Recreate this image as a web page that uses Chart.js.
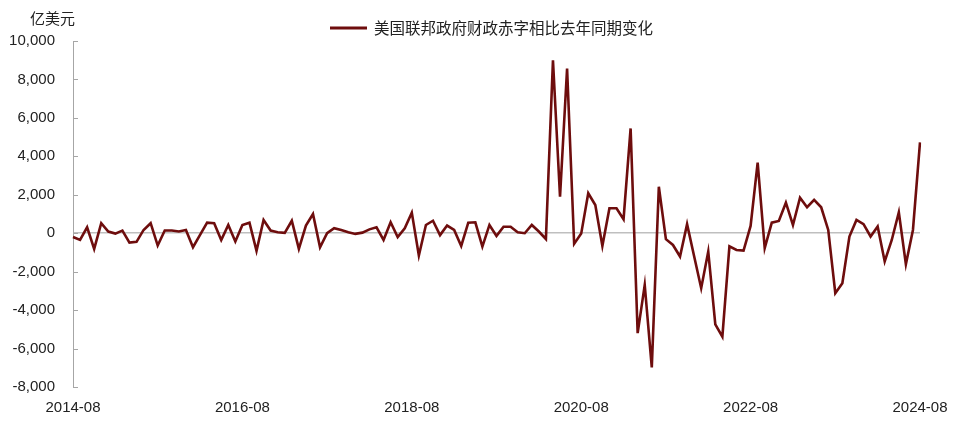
<!DOCTYPE html>
<html>
<head>
<meta charset="utf-8">
<script src="https://cdn.jsdelivr.net/npm/chart.js@4/dist/chart.umd.min.js"></script>
<style>
    html, body { margin: 0; padding: 0; background: #fff; }
    #wrap { width: 960px; height: 422px; }
</style>
</head>
<body>
<div id="wrap"><canvas id="line_chart"></canvas></div>
<script>
// datos: deficit federal, cambio interanual (亿美元), mensual 2014-08 .. 2024-08
const startYear = 2014;
const startMonth = 8;
const nMonths = 121;
const tickLabels = ['2014-08', '2016-08', '2018-08', '2020-08', '2022-08', '2024-08'];
const yTicks = [-8000, -6000, -4000, -2000, 0, 2000, 4000, 6000, 8000, 10000];
const seriesName = '美国联邦政府财政赤字相比去年同期变化';
const unitLabel = '亿美元';

const deficitChange = [
    -200, -350, 310, -815, 520, 85, -20, 140, -490, -450,
    170, 520, -640, 140, 140, 90, 170, -730, -90, 550,
    520, -350, 430, -430, 430, 550, -920, 690, 140, 50,
    20, 650, -815, 400, 1000, -730, 0, 260, 170, 50,
    -35, 30, 200, 310, -350, 570, -200, 260, 1070, -1160,
    430, 650, -100, 400, 170, -660, 550, 570, -700, 430,
    -140, 340, 340, 50, 0, 430, 90, -300, 9000, 1900,
    8570, -555, -20, 2080, 1470, -660, 1300, 1300, 730, 5450,
    -5200, -2690, -6980, 2420, -310, -610, -1210, 470, -1200, -2860,
    -950, -4740, -5380, -680, -870, -900, 380, 3670, -780, 550,
    640, 1590, 430, 1850, 1350, 1730, 1350, 170, -3120, -2600,
    -170, 690, 470, -170, 350, -1470, -350, 1090, -1610, 170,
    4730
];

// etiquetas de meses
let labels = [];
for (let i = 0; i < nMonths; i++) {
    let m = startMonth - 1 + i;
    let y = startYear + Math.floor(m / 12);
    let mm = (m % 12) + 1;
    labels.push(y + '-' + (mm < 10 ? '0' + mm : mm));
}

const lineColor = '#6E0D0D';
const axisColor = '#A6A6A6';
const textFont = '"Liberation Sans", Arial, "Noto Sans CJK SC", sans-serif';
const cjkFont = '"Noto Sans CJK SC", sans-serif';

// unidad, leyenda y ticks hacia dentro
const extras = {
    id: 'extras',
    afterDraw(chart) {
        let ctx = chart.ctx;
        let yScale = chart.scales.y;
        ctx.save();
        ctx.fillStyle = '#222';
        ctx.font = '15px ' + cjkFont;
        ctx.textAlign = 'right';
        ctx.textBaseline = 'middle';
        ctx.fillText(unitLabel, 75, 18);

        // leyenda
        let ds = chart.data.datasets[0];
        ctx.strokeStyle = ds.borderColor;
        ctx.lineWidth = 3;
        ctx.beginPath();
        ctx.moveTo(330, 28);
        ctx.lineTo(367, 28);
        ctx.stroke();
        ctx.textAlign = 'left';
        ctx.font = '15.5px ' + cjkFont;
        ctx.fillText(ds.label, 374, 28);

        ctx.strokeStyle = axisColor;
        ctx.lineWidth = 1;
        yTicks.forEach(v => {
            let py = Math.round(yScale.getPixelForValue(v)) + 0.5;
            ctx.beginPath();
            ctx.moveTo(yScale.right, py);
            ctx.lineTo(yScale.right + 5, py);
            ctx.stroke();
        });
        ctx.restore();
    }
};

function getDeficitChart() {
    let config = {
        type: 'line',
        data: {
            labels: labels,
            datasets: [{
                label: seriesName,
                data: deficitChange,
                borderColor: lineColor,
                backgroundColor: lineColor,
                borderWidth: 2.6,
                pointRadius: 0,
                tension: 0
            }]
        },
        options: {
            responsive: true,
            maintainAspectRatio: false,
            animation: false,
            layout: { padding: { left: 0, right: 40, top: 41, bottom: 0 } },
            plugins: {
                legend: { display: false },
                tooltip: { enabled: false }
            },
            scales: {
                x: {
                    type: 'category',
                    offset: false,
                    grid: { display: false, drawTicks: false },
                    border: { display: false },
                    afterFit: function (scale) { scale.height = 35; },
                    ticks: {
                        autoSkip: false,
                        maxRotation: 0,
                        padding: 12,
                        color: '#222',
                        font: { family: textFont, size: 15 },
                        callback: function (val, index) {
                            let lab = labels[index];
                            return tickLabels.indexOf(lab) >= 0 ? lab : null;
                        }
                    }
                },
                y: {
                    min: -8000,
                    max: 10000,
                    afterFit: function (scale) { scale.width = 73; },
                    grid: {
                        drawTicks: false,
                        color: ctx => (ctx.tick && ctx.tick.value === 0) ? '#BFBFBF' : 'rgba(0,0,0,0)',
                        lineWidth: 1.5
                    },
                    border: { display: true, color: axisColor, width: 1 },
                    ticks: {
                        stepSize: 2000,
                        padding: 18,
                        color: '#222',
                        font: { family: textFont, size: 15 },
                        callback: v => v.toLocaleString('en-US')
                    }
                }
            }
        },
        plugins: [extras]
    };
    return config;
}

new Chart(document.getElementById('line_chart').getContext('2d'), getDeficitChart());
</script>
</body>
</html>
